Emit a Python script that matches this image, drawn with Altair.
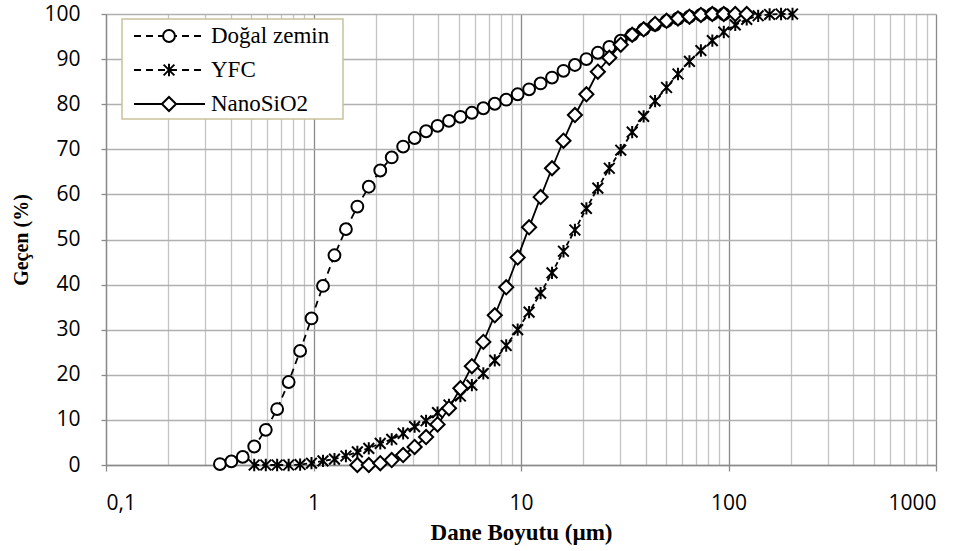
import altair as alt
import pandas as pd

# particle size grid (µm), shared by all three measurements
size_grid = [0.354, 0.402, 0.456, 0.518, 0.589, 0.668, 0.759, 0.862, 0.978, 1.111,
             1.262, 1.433, 1.627, 1.847, 2.098, 2.382, 2.704, 3.071, 3.487, 3.960,
             4.496, 5.105, 5.797, 6.583, 7.475, 8.487, 9.637, 10.94, 12.43, 14.11,
             16.02, 18.19, 20.66, 23.46, 26.64, 30.25, 34.34, 39.00, 44.28, 50.28,
             57.09, 64.83, 73.62, 83.59, 94.92, 107.8, 122.4, 139.0, 157.8, 179.2, 203.5]

series_names = ["Doğal zemin", "YFC", "NanoSiO2"]

dogal_size = size_grid[0:45]
dogal_pct = [0.2, 0.8, 1.8, 4.1, 7.8, 12.4, 18.4, 25.3, 32.5, 39.7,
             46.5, 52.3, 57.3, 61.7, 65.3, 68.2, 70.6, 72.5, 74.0, 75.2,
             76.3, 77.2, 78.1, 79.1, 80.1, 81.0, 82.2, 83.3, 84.6, 85.9,
             87.4, 88.7, 90.0, 91.4, 92.7, 94.1, 95.4, 96.6, 97.6, 98.4,
             99.0, 99.4, 99.8, 100.0, 100.0]

yfc_size = size_grid[3:51]
yfc_pct = [0.0, 0.0, 0.0, 0.0, 0.1, 0.4, 0.9, 1.3, 2.0, 2.9,
           3.7, 4.8, 5.7, 7.0, 8.5, 9.8, 11.6, 13.3, 15.3, 17.7,
           20.3, 23.2, 26.5, 30.0, 33.9, 38.1, 42.6, 47.4, 52.1, 56.9,
           61.4, 65.8, 69.8, 73.8, 77.3, 80.7, 83.7, 86.7, 89.5, 91.9,
           94.1, 96.0, 97.6, 98.8, 99.6, 99.9, 100.0, 100.0]

nano_size = size_grid[12:47]
nano_pct = [0.0, 0.0, 0.4, 1.1, 2.2, 4.0, 6.2, 9.0, 12.6, 17.0,
            21.9, 27.3, 33.2, 39.4, 46.0, 52.7, 59.4, 65.8, 71.9, 77.6,
            82.2, 87.2, 90.3, 93.2, 95.4, 96.6, 97.8, 98.5, 99.0, 99.4,
            99.8, 100.0, 100.0, 100.0, 100.0]

x_major = [0.1, 1, 10, 100, 1000]
x_major_labels = ["0,1", "1", "10", "100", "1000"]
y_ticks = [0, 10, 20, 30, 40, 50, 60, 70, 80, 90, 100]

x_all_ticks = [d if m == 1 else d * m for d in x_major[:-1] for m in range(1, 10)] + [x_major[-1]]

decade_test = "indexof([" + ",".join(str(v) for v in x_major) + "], datum.value) >= 0"
label_expr = ""
for v, lab in zip(x_major, x_major_labels):
    label_expr += f"datum.value == {v} ? '{lab}' : "
label_expr += "''"

TICK_FONT = "Open Sans"
SERIF = "Liberation Serif"

xscale = alt.Scale(type="log", domain=[0.1, 1000], nice=False)
yscale = alt.Scale(domain=[0, 100], nice=False)

xaxis = alt.Axis(values=x_all_ticks, labelExpr=label_expr, labelOverlap=False,
                 grid=True,
                 gridColor={"condition": {"test": decade_test, "value": "#8a8a8a"}, "value": "#c4c4c4"},
                 gridWidth=1.3,
                 tickColor="#8a8a8a",
                 tickOpacity={"condition": {"test": decade_test, "value": 1}, "value": 0},
                 tickSize=6, tickWidth=1.3,
                 domainColor="#8a8a8a", domainWidth=1.3,
                 labelFont=TICK_FONT, labelFontSize=21, labelColor="black",
                 labelPadding=21,
                 title="Dane Boyutu (µm)", titleFont=SERIF, titleFontSize=23,
                 titleFontWeight="bold", titleColor="black", titlePadding=8)
yaxis = alt.Axis(values=y_ticks, grid=True, gridColor="#b0b0b0", gridWidth=1.3,
                 tickColor="#8a8a8a", tickSize=5, tickWidth=1.3,
                 domainColor="#8a8a8a", domainWidth=1.3,
                 labelFont=TICK_FONT, labelFontSize=21, labelColor="black",
                 labelPadding=21,
                 title="Geçen (%)", titleFont=SERIF, titleFontSize=20,
                 titleFontWeight="bold", titleColor="black", titlePadding=12)

STAR = "M-1,-1L1,1M-1,1L1,-1M0,-1.15L0,1.15"

specs = [
    (series_names[0], dogal_size, dogal_pct, [7, 5], "circle", 140),
    (series_names[1], yfc_size, yfc_pct, [5, 3], STAR, 115),
    (series_names[2], nano_size, nano_pct, None, "diamond", 200),
]

layers = []
for name, xs, ys, dash, shape, sz in specs:
    df = pd.DataFrame({"size": xs, "pct": ys, "series": name})
    base = alt.Chart(df).encode(
        x=alt.X("size:Q", scale=xscale, axis=xaxis),
        y=alt.Y("pct:Q", scale=yscale, axis=yaxis),
    )
    if dash:
        line = base.mark_line(color="black", strokeWidth=1.8, strokeDash=dash)
    else:
        line = base.mark_line(color="black", strokeWidth=1.8)
    pts = base.mark_point(shape=shape, size=sz, filled=True, fill="white",
                          stroke="black", strokeWidth=2, opacity=1)
    layers += [line, pts]

# legend (positions are relative to the plot area's top-left corner)
leg_df = pd.DataFrame({"series": series_names})
box = alt.Chart(leg_df.head(1)).mark_rect(fill="white", stroke="#c9c19c", strokeWidth=1.5).encode(
    x=alt.value(16), x2=alt.value(237), y=alt.value(5), y2=alt.value(105))
layers.append(box)
row_y = [22, 56, 90]
for (name, xs, ys, dash, shape, sz), ry in zip(specs, row_y):
    d1 = pd.DataFrame({"series": [name]})
    if dash:
        seg = alt.Chart(d1).mark_rule(color="black", strokeWidth=1.8, strokeDash=[7, 5])
    else:
        seg = alt.Chart(d1).mark_rule(color="black", strokeWidth=1.8)
    seg = seg.encode(x=alt.value(28), x2=alt.value(99), y=alt.value(ry))
    sym = alt.Chart(d1).mark_point(shape=shape, size=sz, filled=True, fill="white",
                                   stroke="black", strokeWidth=2, opacity=1).encode(
        x=alt.value(63), y=alt.value(ry))
    txt = alt.Chart(d1).mark_text(align="left", baseline="middle", font=SERIF,
                                  fontSize=23, color="black").encode(
        x=alt.value(105), y=alt.value(ry), text="series:N")
    layers += [seg, sym, txt]

chart = alt.layer(*layers).properties(
    width=830, height=451,
    autosize=alt.AutoSizeParams(type="none"),
    padding={"left": 106, "top": 14, "right": 31, "bottom": 86},
    background="white",
).configure_view(stroke=None)

chart.save("out.html", embed_options={"renderer": "svg", "actions": False})
